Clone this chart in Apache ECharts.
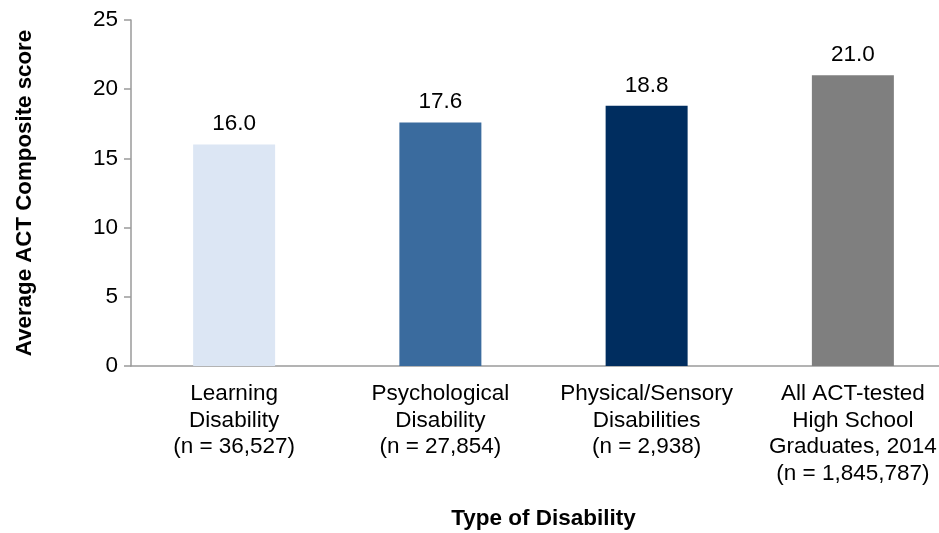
<!DOCTYPE html>
<html><head><meta charset="utf-8">
<script src="https://cdn.jsdelivr.net/npm/echarts@6/dist/echarts.min.js"></script>
<style>html,body{margin:0;padding:0;background:#fff;overflow:hidden}#c{width:956px;height:533px}</style>
</head><body><div id="c"></div>
<script>
const categories = [
  "Learning\nDisability\n(n = 36,527)",
  "Psychological\nDisability\n(n = 27,854)",
  "Physical/Sensory\nDisabilities\n(n = 2,938)",
  "All ACT-tested\nHigh School\nGraduates, 2014\n(n = 1,845,787)"
];
const scores = [16.0, 17.6, 18.8, 21.0];
const barColors = ["#DCE6F4", "#3A6B9E", "#002D5F", "#7F7F7F"];
const yTicks = [0, 5, 10, 15, 20, 25];

const chart = echarts.init(document.getElementById('c'));
chart.setOption({
  animation: false,
  grid: { left: 131, right: 0, top: 20, bottom: 167, outerBoundsMode: 'none', containLabel: false },
  xAxis: {
    type: 'category',
    data: categories,
    name: 'Type of Disability',
    nameLocation: 'middle',
    nameGap: 141,
    nameTextStyle: { fontFamily: 'Liberation Sans', fontWeight: 'bold', fontSize: 22.5, color: '#000' },
    axisLine: { lineStyle: { color: '#9a9a9a', width: 1.5 } },
    axisTick: { show: false },
    axisLabel: { interval: 0, fontFamily: 'Liberation Sans', fontSize: 22.5, color: '#000', lineHeight: 26.5, margin: 15, verticalAlign: 'top' }
  },
  yAxis: {
    type: 'value',
    min: 0, max: 25, interval: 5,
    name: 'Average ACT Composite score',
    nameLocation: 'middle',
    nameGap: 95,
    nameTextStyle: { fontFamily: 'Liberation Sans', fontWeight: 'bold', fontSize: 22.3, color: '#000' },
    axisLine: { show: true, lineStyle: { color: '#9a9a9a', width: 1.5 } },
    axisTick: { show: true, inside: false, length: 7, lineStyle: { color: '#9a9a9a', width: 1.5 } },
    splitLine: { show: false },
    axisLabel: { fontFamily: 'Liberation Sans', fontSize: 22.5, color: '#000', margin: 13,
      formatter: v => yTicks.includes(v) ? String(v) : '' }
  },
  series: [{
    type: 'bar',
    barWidth: 82,
    data: scores.map((v, i) => ({ value: v, itemStyle: { color: barColors[i] } })),
    label: { show: true, position: 'top', distance: 9, fontFamily: 'Liberation Sans', fontSize: 22.5, color: '#000',
      formatter: p => p.value.toFixed(1) }
  }]
});
</script></body></html>
